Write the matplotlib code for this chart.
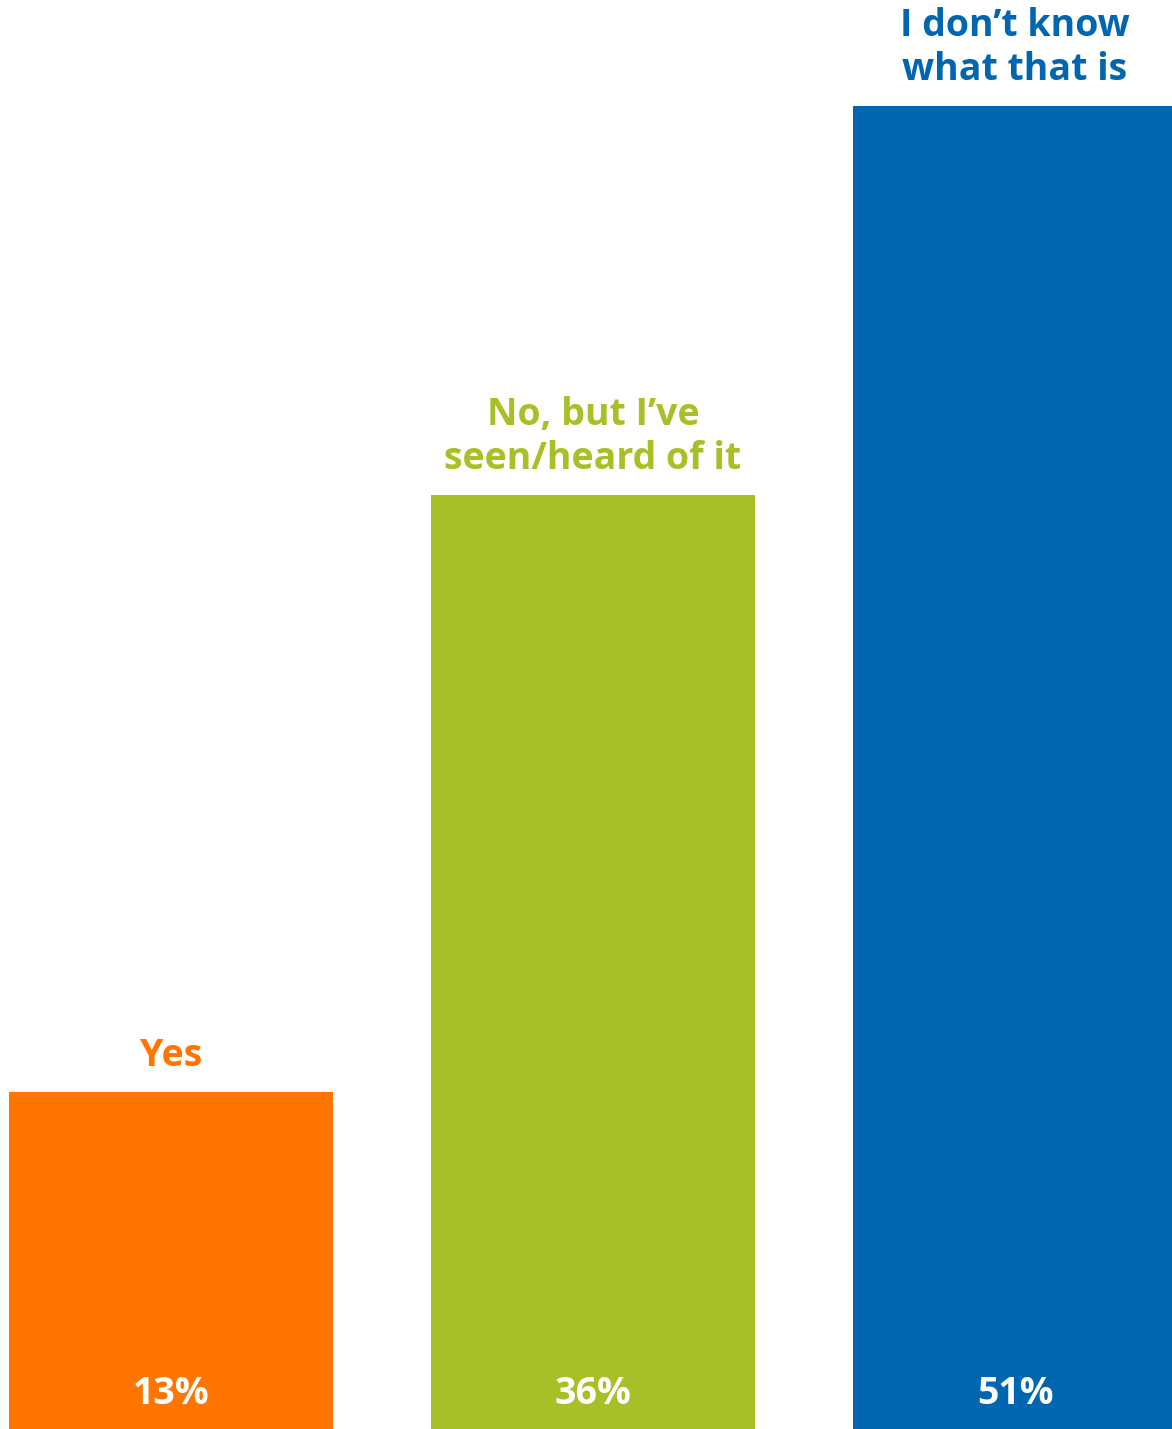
import numpy as np
import matplotlib.pyplot as plt

categories = ["Yes", "No, but I\u2019ve\nseen/heard of it", "I don\u2019t know\nwhat that is"]
values = [13, 36, 51]
colors = ["#FF7500", "#A8C027", "#0066B0"]

plt.rcParams['font.family'] = ['Open Sans', 'DejaVu Sans']

fig = plt.figure(figsize=(11.72, 14.29), dpi=100)
ax = fig.add_axes([0, 0, 1, 1])

x = np.arange(len(values))
ax.bar(x, values, width=0.768, color=colors)

for xi, v, lab, c in zip(x, values, categories, colors):
    ax.text(xi, 1.35, f"{v}%", ha="center", va="center", color="white",
            fontsize=27, fontweight="bold")
    ax.text(xi, v + 0.65, lab, ha="center", va="bottom", color=c,
            fontsize=27, fontweight="bold", linespacing=1.22)

ax.set_xlim(-0.405, 2.372)
ax.set_ylim(0, 55.1)
ax.axis("off")

fig.savefig("out.png", dpi=100)
